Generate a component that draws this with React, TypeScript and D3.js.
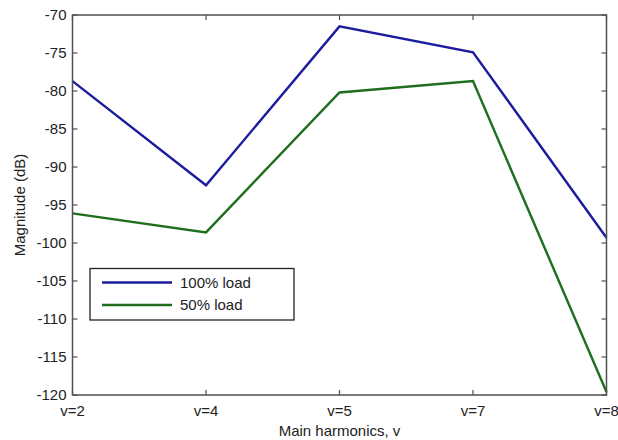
import React from "react";
import * as d3 from "d3";

// Harmonic orders on the x axis
const harmonics = ["v=2", "v=4", "v=5", "v=7", "v=8"];
// Magnitudes (dB) per load level
const load100 = [-78.7, -92.4, -71.5, -74.9, -99.3];
const load50 = [-96.1, -98.6, -80.2, -78.7, -119.6];
const yTicks = [-70, -75, -80, -85, -90, -95, -100, -105, -110, -115, -120];

const seriesNames = ["100% load", "50% load"];
const seriesColors = ["#1c1c9e", "#1e6e1e"];

const W = 618;
const H = 440;
const left = 72.5;
const right = 606.5;
const top = 15;
const bottom = 395;
const font = "'Liberation Sans', Arial, Helvetica, sans-serif";
const axisColor = "#505050";
const textColor = "#222";

export default function App() {
  const x = d3.scalePoint<string>().domain(harmonics).range([left, right]);
  const y = d3.scaleLinear().domain([-120, -70]).range([bottom, top]);

  const line = d3
    .line<number>()
    .x((_, i) => x(harmonics[i]) as number)
    .y((d) => y(d));

  const series = [load100, load50];
  const tickLen = 5;

  return (
    <svg
      width={W}
      height={H}
      style={{ position: "absolute", left: 0, top: 0, background: "#fff" }}
      fontFamily={font}
    >
      <rect x={0} y={0} width={W} height={H} fill="#fff" />

      {/* data lines */}
      {series.map((s, k) => (
        <path
          key={k}
          d={line(s) ?? ""}
          fill="none"
          stroke={seriesColors[k]}
          strokeWidth={2.4}
          strokeLinejoin="miter"
        />
      ))}

      {/* axes box */}
      <rect
        x={left}
        y={top}
        width={right - left}
        height={bottom - top}
        fill="none"
        stroke={axisColor}
        strokeWidth={1.5}
      />

      {/* y ticks, both sides, pointing inward */}
      {yTicks.map((t) => (
        <g key={t}>
          <line x1={left} x2={left + tickLen} y1={y(t)} y2={y(t)} stroke={axisColor} strokeWidth={1.2} />
          <line x1={right} x2={right - tickLen} y1={y(t)} y2={y(t)} stroke={axisColor} strokeWidth={1.2} />
          <text
            x={left - 6}
            y={y(t)}
            dy="0.36em"
            textAnchor="end"
            fontSize={15}
            fill={textColor}
          >
            {t}
          </text>
        </g>
      ))}

      {/* x ticks, top and bottom, pointing inward */}
      {harmonics.map((h) => (
        <g key={h}>
          <line x1={x(h)} x2={x(h)} y1={bottom} y2={bottom - tickLen} stroke={axisColor} strokeWidth={1.2} />
          <line x1={x(h)} x2={x(h)} y1={top} y2={top + tickLen} stroke={axisColor} strokeWidth={1.2} />
          <text x={x(h)} y={415.5} textAnchor="middle" fontSize={15} fill={textColor}>
            {h}
          </text>
        </g>
      ))}

      {/* axis titles */}
      <text x={(left + right) / 2} y={436} textAnchor="middle" fontSize={15} fill={textColor}>
        Main harmonics, v
      </text>
      <text
        transform={`translate(25,${(top + bottom) / 2}) rotate(-90)`}
        textAnchor="middle"
        fontSize={15}
        fill={textColor}
      >
        Magnitude (dB)
      </text>

      {/* legend */}
      <g>
        <rect x={90} y={268.5} width={204} height={51.5} fill="#fff" stroke="#222" strokeWidth={1.3} />
        {seriesNames.map((n, k) => {
          const ly = 282.5 + k * 22.5;
          return (
            <g key={n}>
              <line x1={102} x2={172} y1={ly} y2={ly} stroke={seriesColors[k]} strokeWidth={2.4} />
              <text x={180} y={ly} dy="0.36em" fontSize={15} fill={textColor}>
                {n}
              </text>
            </g>
          );
        })}
      </g>
    </svg>
  );
}
